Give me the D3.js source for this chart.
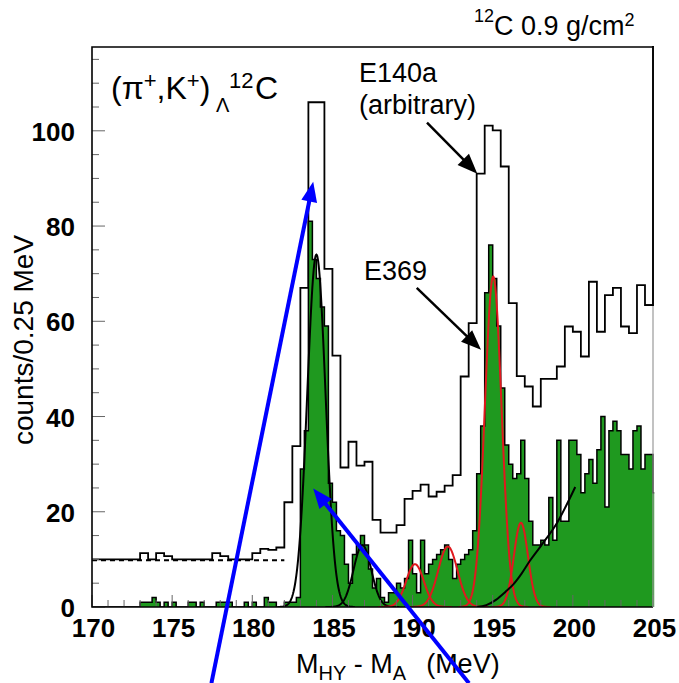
<!DOCTYPE html>
<html>
<head>
<meta charset="utf-8">
<script src="https://cdn.jsdelivr.net/npm/d3@7"></script>
<style>
  html, body { margin: 0; padding: 0; background: #fff; }
  svg { display: block; font-family: "Liberation Sans", Arial, Helvetica, sans-serif; }
</style>
</head>
<body>
<svg id="chart" width="679" height="683"></svg>
<script>
// ---- data -------------------------------------------------------------
// E140a spectrum (arbitrary normalisation), 0.5 MeV bins from 170 MeV;
// the last entry is the first bin past 205 MeV (off scale).
const e140aStart = 170;
const e140aBin = 0.5;
const e140aCounts = [
  10, 10, 10, 10, 10, 10, 11.3, 10, 11.3, 10.7,
  10, 10, 10, 10, 10, 11.3, 10.7, 10, 10, 10,
  11.3, 12.2, 12.0, 12.5, 22, 33.8, 67, 106, 106, 71,
  52.8, 29.3, 34.7, 29.7, 30.5, 18.3, 15.6, 15.6, 17.2, 22.7,
  24.4, 25.7, 23.2, 24.2, 25.5, 27.7, 48.4, 59.6, 91.0, 101.1,
  100.1, 92.5, 63.8, 48.5, 46.3, 42.1, 47.9, 47.9, 50.5, 58.9,
  57.8, 52.6, 68.3, 57.8, 65.5, 67.0, 58.9, 57.5, 67.6, 63.4,
  125
];

// E369 spectrum, counts per 0.25 MeV bin from 170 MeV;
// the last entry is the first bin past 205 MeV.
const e369Start = 170;
const e369Bin = 0.25;
const e369Counts = [
  0, 0, 0, 0, 0, 0, 0, 0, 0, 0, 0, 0,
  1, 1, 1, 2, 1, 0, 1, 0, 1, 0, 0, 0,
  1, 1, 0, 1, 0, 0, 0, 1, 1, 1, 1, 0,
  0, 0, 1, 0, 1, 0, 0, 2, 1, 1, 0, 0,
  1, 1, 1, 2, 29, 37, 81, 73, 69, 63,
  59, 26, 22, 16, 15, 9, 5, 11, 13, 15,
  13, 8, 4, 6, 2, 1, 3, 3, 5, 4,
  6, 14, 7, 3, 14, 7, 9, 10, 11, 12,
  13, 10, 6, 9, 10, 11, 12, 16, 28, 38,
  66, 76, 69, 59, 46, 34, 30, 27, 28, 35,
  27, 18, 13, 13, 14, 13, 23, 14, 35, 18,
  18, 35, 35, 32, 24, 28, 31, 26, 33, 40,
  21, 37, 39, 37, 32, 32, 29, 37, 38, 29,
  32, 32,
  24
];

// Gaussian peak fits (MeV, counts, MeV)
const blackFitCenters = [184.0, 186.87];
const blackFitHeights = [74, 13];
const blackFitSigmas  = [0.57, 0.55];
const redFitCenters = [190.15, 192.2, 195.03, 196.76];
const redFitHeights = [9, 12.7, 69.4, 17.7];
const redFitSigmas  = [0.55, 0.6, 0.52, 0.44];

// Continuum under the excited states (MeV, counts)
const continuumMeV    = [194.0, 194.6, 195.2, 195.8, 196.3, 196.8, 197.3, 198.0, 199.0, 200.15];
const continuumCounts = [0, 0.4, 1.5, 3.2, 4.8, 7.0, 9.6, 12.8, 17.6, 25.2];

// Flat E140a background level below threshold
const bgLevel = 9.8;
const bgFrom = 170, bgTo = 182;

// Annotation arrows: [tail MeV, tail counts, tip MeV, tip counts]
const labelArrows = [
  [190.9, 101.7, 194.04, 91.0],
  [190.26, 67.0, 194.27, 54.0]
];
const blueArrows = [
  [177.45, -16, 183.8, 89.3],
  [193.52, -16, 183.8, 24.9]
];

const xMajor = [170, 175, 180, 185, 190, 195, 200, 205];
const yMajor = [0, 20, 40, 60, 80, 100];
const xDomain = [170, 205];
const yDomain = [0, 117.6];

// ---- layout -----------------------------------------------------------
const plot = { left: 92, right: 653, top: 47, bottom: 607 };
const svg = d3.select("#chart");
const x = d3.scaleLinear().domain(xDomain).range([plot.left, plot.right]);
const y = d3.scaleLinear().domain(yDomain).range([plot.bottom, plot.top]);

const FONT = '"Liberation Sans", Arial, Helvetica, sans-serif';
const GREEN = "#1f991f";
const RED = "#e0191e";

svg.append("defs").append("clipPath").attr("id", "plotClip")
  .append("rect")
  .attr("x", plot.left).attr("y", plot.top - 1)
  .attr("width", plot.right - plot.left + 1.2)
  .attr("height", plot.bottom - plot.top + 1);

const body = svg.append("g").attr("clip-path", "url(#plotClip)");

// step points for a histogram
function stepPoints(start, width, counts) {
  const pts = counts.map((v, i) => [start + i * width, v]);
  pts.push([start + counts.length * width, counts[counts.length - 1]]);
  return pts;
}

const stepLine = d3.line().x(d => x(d[0])).y(d => y(d[1])).curve(d3.curveStepAfter);
const stepArea = d3.area().x(d => x(d[0])).y0(y(0)).y1(d => y(d[1])).curve(d3.curveStepAfter);

// E140a (open histogram)
body.append("path")
  .attr("d", stepLine(stepPoints(e140aStart, e140aBin, e140aCounts)))
  .attr("fill", "none").attr("stroke", "#000").attr("stroke-width", 1.8);

// background level (dashed)
body.append("line")
  .attr("x1", x(bgFrom)).attr("x2", x(bgTo))
  .attr("y1", y(bgLevel)).attr("y2", y(bgLevel))
  .attr("stroke", "#000").attr("stroke-width", 2)
  .attr("stroke-dasharray", "5,4");

// E369 (filled histogram)
const e369Pts = stepPoints(e369Start, e369Bin, e369Counts);
body.append("path").attr("d", stepArea(e369Pts)).attr("fill", GREEN);
body.append("path").attr("d", stepLine(e369Pts))
  .attr("fill", "none").attr("stroke", "#000").attr("stroke-width", 1.5);

// Gaussian fit curves
const curveLine = d3.line().x(d => x(d[0])).y(d => y(d[1]));
function gaussPoints(c, h, s) {
  const pts = [];
  for (let t = -4.2; t <= 4.2001; t += 0.05) {
    const m = c + t * s;
    pts.push([m, h * Math.exp(-0.5 * t * t)]);
  }
  return pts;
}
blackFitCenters.forEach((c, k) => {
  body.append("path").attr("d", curveLine(gaussPoints(c, blackFitHeights[k], blackFitSigmas[k])))
    .attr("fill", "none").attr("stroke", "#000").attr("stroke-width", 2);
});
redFitCenters.forEach((c, k) => {
  body.append("path").attr("d", curveLine(gaussPoints(c, redFitHeights[k], redFitSigmas[k])))
    .attr("fill", "none").attr("stroke", RED).attr("stroke-width", 2);
});

// continuum curve
body.append("path")
  .attr("d", d3.line().x(d => x(d[0])).y(d => y(d[1])).curve(d3.curveMonotoneX)(
    continuumMeV.map((m, i) => [m, continuumCounts[i]])))
  .attr("fill", "none").attr("stroke", "#000").attr("stroke-width", 2);

// ---- frame and ticks --------------------------------------------------
const ticks = svg.append("g");
d3.range(170, 205.01, 1).forEach(v => {
  const major = xMajor.includes(v);
  ticks.append("line")
    .attr("x1", x(v)).attr("x2", x(v))
    .attr("y1", plot.bottom).attr("y2", plot.bottom - (major ? 12 : 7))
    .attr("stroke", "#666").attr("stroke-width", 1);
});
d3.range(0, 117.6, 5).forEach(v => {
  const major = yMajor.includes(v);
  ticks.append("line")
    .attr("x1", plot.left).attr("x2", plot.left + (major ? 13 : 7))
    .attr("y1", y(v)).attr("y2", y(v))
    .attr("stroke", "#666").attr("stroke-width", 1);
});

// frame: left, top and bottom in black, right edge light
svg.append("path")
  .attr("d", `M${plot.right},${plot.top}H${plot.left}V${plot.bottom}H${plot.right}`)
  .attr("fill", "none").attr("stroke", "#000").attr("stroke-width", 1.6);
svg.append("line")
  .attr("x1", plot.right).attr("x2", plot.right)
  .attr("y1", plot.top).attr("y2", plot.bottom)
  .attr("stroke", "#999").attr("stroke-width", 1.2);
// redraw the E140a edge that runs up the right border
svg.append("g").attr("clip-path", "url(#plotClip)").append("path")
  .attr("d", stepLine(stepPoints(e140aStart, e140aBin, e140aCounts).slice(-3)))
  .attr("fill", "none").attr("stroke", "#000").attr("stroke-width", 1.8);

// tick labels
const labels = svg.append("g").attr("font-family", FONT).attr("font-weight", "bold")
  .attr("font-size", 26).attr("fill", "#000");
xMajor.forEach(v => {
  labels.append("text").attr("x", x(v) + 1.5).attr("y", 637)
    .attr("text-anchor", "middle").text(v);
});
yMajor.forEach(v => {
  labels.append("text").attr("x", 75).attr("y", y(v) + 10)
    .attr("text-anchor", "end").text(v);
});

// axis titles
const xt = svg.append("text").attr("x", 296).attr("y", 673)
  .attr("font-family", FONT).attr("font-size", 27).attr("fill", "#000");
xt.append("tspan").text("M");
xt.append("tspan").attr("font-size", 20).attr("dy", 7).text("HY");
xt.append("tspan").attr("dy", -7).text(" - M");
xt.append("tspan").attr("font-size", 20).attr("dy", 7).text("A");
xt.append("tspan").attr("dy", -7).attr("dx", 20).text("(MeV)");

svg.append("text")
  .attr("transform", "translate(33,340) rotate(-90)")
  .attr("text-anchor", "middle")
  .attr("font-family", FONT).attr("font-size", 28).attr("fill", "#000")
  .text("counts/0.25 MeV");

// ---- annotations ------------------------------------------------------
function arrow(g, d, color, width, headLen, headHalf) {
  const x1 = x(d[0]), y1 = y(d[1]), x2 = x(d[2]), y2 = y(d[3]);
  const len = Math.hypot(x2 - x1, y2 - y1);
  const ux = (x2 - x1) / len, uy = (y2 - y1) / len;
  const bx = x2 - ux * headLen, by = y2 - uy * headLen;
  g.append("line")
    .attr("x1", x1).attr("y1", y1)
    .attr("x2", x2 - ux * headLen * 0.7).attr("y2", y2 - uy * headLen * 0.7)
    .attr("stroke", color).attr("stroke-width", width);
  g.append("path")
    .attr("d", `M${x2},${y2}L${bx - uy * headHalf},${by + ux * headHalf}L${bx + uy * headHalf},${by - ux * headHalf}Z`)
    .attr("fill", color);
}
const ann = svg.append("g");
labelArrows.forEach(d => arrow(ann, d, "#000", 2.5, 20, 8));

const txt = svg.append("g").attr("font-family", FONT).attr("fill", "#000");
txt.append("text").attr("x", 359).attr("y", 82).attr("font-size", 27).text("E140a");
txt.append("text").attr("x", 359).attr("y", 114).attr("font-size", 27).text("(arbitrary)");
txt.append("text").attr("x", 364).attr("y", 280).attr("font-size", 27).text("E369");

// target thickness
const tt = txt.append("text").attr("x", 474).attr("y", 35).attr("font-size", 27);
tt.append("tspan").attr("font-size", 18).attr("dy", -13).text("12");
tt.append("tspan").attr("dy", 13).text("C 0.9 g/cm");
tt.append("tspan").attr("font-size", 18).attr("dy", -9).text("2");

// reaction label
const rl = txt.append("text").attr("x", 111).attr("y", 99).attr("font-size", 32);
rl.append("tspan").text("(π");
rl.append("tspan").attr("font-size", 22).attr("dy", -11).text("+");
rl.append("tspan").attr("dy", 11).text(",K");
rl.append("tspan").attr("font-size", 22).attr("dy", -11).text("+");
rl.append("tspan").attr("dy", 11).text(")");
txt.append("text").attr("x", 216).attr("y", 112).attr("font-size", 20).text("Λ");
txt.append("text").attr("x", 229).attr("y", 88).attr("font-size", 22).text("12");
txt.append("text").attr("x", 255).attr("y", 99).attr("font-size", 32).text("C");

// blue arrows on top
const blue = svg.append("g");
blueArrows.forEach(d => arrow(blue, d, "#0000ff", 4, 20, 8));
</script>
</body>
</html>
